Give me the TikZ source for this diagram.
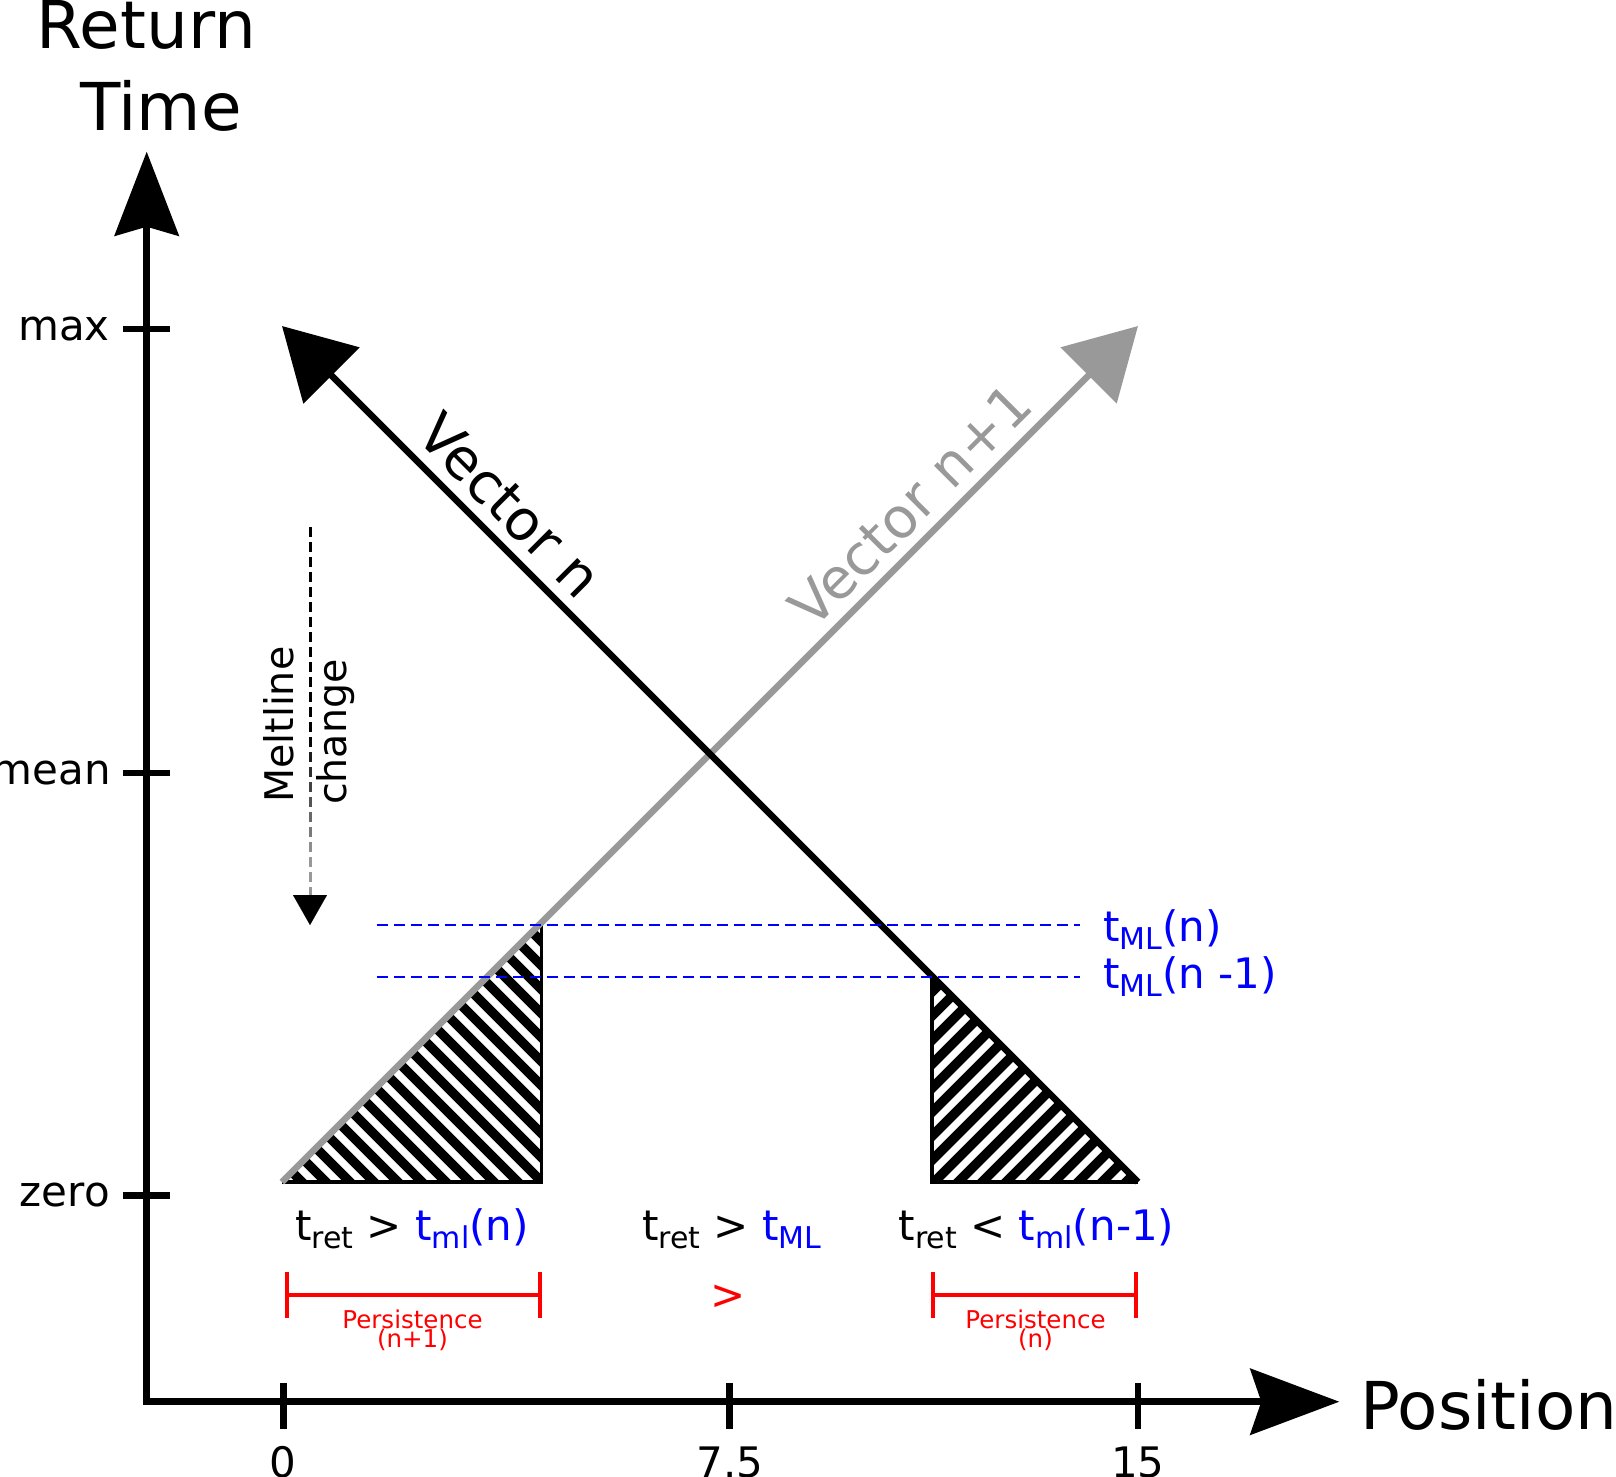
\documentclass[tikz,border=0pt]{standalone}
\usepackage{fontspec}
\setmainfont{DejaVu Sans}
\usetikzlibrary{arrows.meta}
\definecolor{vgray}{RGB}{153,153,153}
\definecolor{mblue}{RGB}{0,0,255}
\definecolor{mred}{RGB}{255,0,0}
\newcommand\sbs[1]{\raisebox{-8pt}{\fontsize{30}{30}\selectfont #1}}
\tikzset{
  lbl/.style={font=\fontsize{42}{50}\selectfont, inner sep=0pt},
  big/.style={font=\fontsize{66}{80}\selectfont, inner sep=0pt},
  vec/.style={font=\fontsize{56}{66}\selectfont, inner sep=0pt},
  small/.style={font=\fontsize{24.5}{24.5}\selectfont, inner sep=0pt, text=mred},
  melt/.style={font=\fontsize{39.5}{40}\selectfont, inner sep=0pt, rotate=90, anchor=base west},
  axisline/.style={line width=6.5pt},
  hatchline/.style={line width=9.5pt},
  edge/.style={line width=3.5pt},
  vecline/.style={line width=6.5pt, -{Triangle[length=70pt,width=78pt]}},
  level/.style={mblue, line width=2pt, dash pattern=on 11pt off 6pt},
  bracket/.style={mred, line width=4pt, {Bar[width=46pt]}-{Bar[width=46pt]}},
}
\begin{document}
\begin{tikzpicture}[x=1pt,y=-1pt]
\useasboundingbox (0,0) rectangle (1616,1476);

% hatched triangles
\coordinate (L1) at (282,1182);
\coordinate (L2) at (541.7,1182);
\coordinate (L3) at (541.7,922.3);
\begin{scope}
  \clip (L1) -- (L2) -- (L3) -- cycle;
  \foreach \c in {-904,-880,...,-370} \draw[hatchline] (\c+800,800) -- (\c+1300,1300);
\end{scope}
\draw[edge] (L1) -- (L2) -- (L3);

\coordinate (R1) at (932,976);
\coordinate (R2) at (932,1182);
\coordinate (R3) at (1138,1182);
\begin{scope}
  \clip (R1) -- (R2) -- (R3) -- cycle;
  \foreach \c in {1900,1924,...,2340} \draw[hatchline] (\c-900,900) -- (\c-1300,1300);
\end{scope}
\draw[edge] (R1) -- (R2) -- (R3);

% vectors
\coordinate (gS) at (282,1182);
\coordinate (gT) at (1138,326);
\draw[vecline, vgray] (gS) -- (gT);
\coordinate (bS) at (1138,1182);
\coordinate (bT) at (282,326);
\draw[vecline, black] (bS) -- (bT);

\node[vec, rotate=-45, anchor=base] (vn) at (496.1,519.7) {Vector n};
\node[vec, rotate=45, anchor=base, text=vgray] (vn1) at (924.6,519.6) {Vector n+1};

% meltline change arrow (dashes fading from black to gray)
\foreach \i in {0,...,24} {
  \pgfmathsetmacro\ya{527+15*\i}
  \pgfmathsetmacro\yb{min(\ya+10,895)}
  \pgfmathtruncatemacro\pc{max(0,min(100,(\ya-730)/120*100))}
  \draw[line width=3pt, color=vgray!\pc!black] (310,\ya) -- (310,\yb);
}
\coordinate (mB) at (310,895);
\coordinate (mT) at (310,925);
\draw[line width=0.1pt, -{Triangle[length=30pt,width=34pt]}] (mB) -- (mT);
\node[melt] (melt1) at (293.3,803) {Meltline};
\node[melt] (melt2) at (346,805) {change};

% melt levels
\coordinate (d1a) at (376.7,925);
\coordinate (d1b) at (1080,925);
\coordinate (d2a) at (376.7,976.5);
\coordinate (d2b) at (1080,976.5);
\draw[level] (d1a) -- (d1b);
\draw[level] (d2a) -- (d2b);
\node[lbl, text=mblue, anchor=base west] (tml1) at (1103,941) {t\sbs{ML}(n)};
\node[lbl, text=mblue, anchor=base west] (tml2) at (1103,988) {t\sbs{ML}(n -1)};

% axes
\coordinate (O) at (146.7,1401.7);
\coordinate (ytip) at (146.7,151.7);
\coordinate (xtip) at (1339.3,1401.7);
\draw[axisline, {Stealth[length=84pt,width=64pt,inset=9pt]}-{Stealth[length=89pt,width=66pt,inset=11pt]}] (ytip) -- (O) -- (xtip);

\foreach \yy in {329,773,1195.5} \draw[axisline] (123,\yy) -- (170,\yy);
\foreach \xx in {283.3,729.7,1137.8} \draw[axisline] (\xx,1382.7) -- (\xx,1429);

\node[lbl, anchor=east] (tmax) at (110,329) {max};
\node[lbl, anchor=east] (tmean) at (111,773) {mean};
\node[lbl, anchor=east] (tzero) at (110,1195.5) {zero};
\node[lbl, anchor=base] (x0) at (283.3,1477) {0};
\node[lbl, anchor=base] (x75) at (729.7,1477) {7.5};
\node[lbl, anchor=base] (x15) at (1137.8,1477) {15};

\node[big, anchor=base] (rt1) at (146.4,48.3) {Return};
\node[big, anchor=base] (rt2) at (160.8,130.7) {Time};
\node[big, anchor=base west] (pos) at (1360,1429.3) {Position};

% conditions
\node[lbl, anchor=base west] (c1) at (295,1240) {t\sbs{ret} > \textcolor{mblue}{t\sbs{ml}(n)}};
\node[lbl, anchor=base west] (c2) at (642,1240) {t\sbs{ret} > \textcolor{mblue}{t\sbs{ML}}};
\node[lbl, anchor=base west] (c3) at (898.5,1240) {t\sbs{ret} < \textcolor{mblue}{t\sbs{ml}(n-1)}};

% persistence
\coordinate (p1a) at (285,1295);
\coordinate (p1b) at (541.7,1295);
\coordinate (p2a) at (930.7,1295);
\coordinate (p2b) at (1138.3,1295);
\draw[bracket] (p1a) -- (p1b);
\draw[bracket] (p2a) -- (p2b);
\node[lbl, text=mred, anchor=base] (gt) at (728,1309) {>};
\node[small, anchor=base] (ps1) at (412.5,1328.3) {Persistence};
\node[small, anchor=base] (ps1b) at (412.5,1347) {(n+1)};
\node[small, anchor=base] (ps2) at (1035.5,1328.3) {Persistence};
\node[small, anchor=base] (ps2b) at (1035.5,1347) {(n)};
\end{tikzpicture}
\end{document}
